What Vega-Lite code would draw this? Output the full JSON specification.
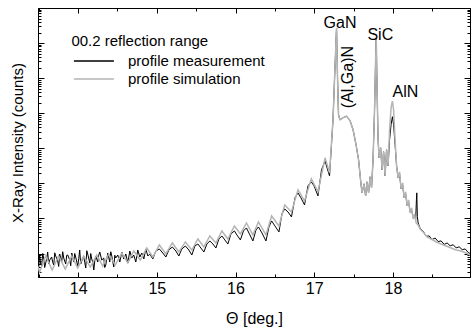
{
  "$schema": "https://vega.github.io/schema/vega-lite/v6.json",
  "width": 432,
  "height": 269,
  "autosize": "none",
  "padding": {"left": 38, "top": 8, "right": 1, "bottom": 51},
  "config": {
    "font": "Liberation Sans",
    "axis": {"grid": false, "domainColor": "black", "tickColor": "black", "labelColor": "black", "titleColor": "black", "labelFont": "Liberation Sans", "titleFont": "Liberation Sans", "titleFontWeight": "normal"},
    "view": {"stroke": "black", "strokeWidth": 1},
    "legend": {"labelFont": "Liberation Sans", "titleFont": "Liberation Sans"}
  },
  "datasets": {
    "meas": [
      {"theta": 13.486, "lg": 0.757}, {"theta": 13.499, "lg": 0.6}, {"theta": 13.511, "lg": 0.957}, {"theta": 13.524, "lg": 0.7}, {"theta": 13.537, "lg": 0.643}, {"theta": 13.55, "lg": 1.0}, {"theta": 13.562, "lg": 0.871},
      {"theta": 13.575, "lg": 0.6}, {"theta": 13.588, "lg": 0.729}, {"theta": 13.6, "lg": 0.85}, {"theta": 13.613, "lg": 1.043}, {"theta": 13.626, "lg": 0.7}, {"theta": 13.639, "lg": 0.814}, {"theta": 13.664, "lg": 0.9},
      {"theta": 13.677, "lg": 0.75}, {"theta": 13.69, "lg": 0.671}, {"theta": 13.703, "lg": 1.02}, {"theta": 13.715, "lg": 0.929}, {"theta": 13.74, "lg": 0.786}, {"theta": 13.753, "lg": 0.63}, {"theta": 13.766, "lg": 0.986},
      {"theta": 13.791, "lg": 0.757}, {"theta": 13.804, "lg": 1.05}, {"theta": 13.817, "lg": 0.871}, {"theta": 13.842, "lg": 0.7}, {"theta": 13.855, "lg": 0.95}, {"theta": 13.868, "lg": 0.957},
      {"theta": 13.893, "lg": 0.814}, {"theta": 13.906, "lg": 0.65}, {"theta": 13.919, "lg": 1.014}, {"theta": 13.944, "lg": 0.757}, {"theta": 13.957, "lg": 1.0}, {"theta": 13.969, "lg": 0.9},
      {"theta": 13.995, "lg": 0.643}, {"theta": 14.008, "lg": 0.85}, {"theta": 14.02, "lg": 1.1}, {"theta": 14.033, "lg": 0.7}, {"theta": 14.046, "lg": 0.786}, {"theta": 14.071, "lg": 0.929},
      {"theta": 14.084, "lg": 0.75}, {"theta": 14.097, "lg": 0.586}, {"theta": 14.11, "lg": 1.08}, {"theta": 14.122, "lg": 0.986}, {"theta": 14.148, "lg": 0.729}, {"theta": 14.16, "lg": 1.0}, {"theta": 14.173, "lg": 0.843},
      {"theta": 14.186, "lg": 0.75}, {"theta": 14.199, "lg": 0.529}, {"theta": 14.212, "lg": 0.8}, {"theta": 14.224, "lg": 0.929}, {"theta": 14.249, "lg": 0.757}, {"theta": 14.262, "lg": 0.95}, {"theta": 14.275, "lg": 1.043},
      {"theta": 14.3, "lg": 0.814}, {"theta": 14.326, "lg": 0.871}, {"theta": 14.338, "lg": 0.6}, {"theta": 14.351, "lg": 0.671}, {"theta": 14.377, "lg": 1.014},
      {"theta": 14.402, "lg": 0.757}, {"theta": 14.415, "lg": 1.05}, {"theta": 14.428, "lg": 0.929}, {"theta": 14.453, "lg": 0.614}, {"theta": 14.466, "lg": 0.95}, {"theta": 14.478, "lg": 0.871},
      {"theta": 14.504, "lg": 0.957}, {"theta": 14.53, "lg": 0.757}, {"theta": 14.555, "lg": 1.043}, {"theta": 14.58, "lg": 0.843},
      {"theta": 14.606, "lg": 0.986}, {"theta": 14.631, "lg": 0.729}, {"theta": 14.657, "lg": 1.071}, {"theta": 14.682, "lg": 0.871},
      {"theta": 14.707, "lg": 0.957}, {"theta": 14.733, "lg": 0.757}, {"theta": 14.758, "lg": 1.1}, {"theta": 14.784, "lg": 0.9},
      {"theta": 14.809, "lg": 1.014}, {"theta": 14.835, "lg": 0.843}, {"theta": 14.86, "lg": 1.129}, {"theta": 14.886, "lg": 0.929},
      {"theta": 14.911, "lg": 0.986}, {"theta": 14.949, "lg": 0.843}, {"theta": 14.987, "lg": 1.071}, {"theta": 15.032, "lg": 1.129},
      {"theta": 15.076, "lg": 1.014}, {"theta": 15.115, "lg": 0.9}, {"theta": 15.153, "lg": 1.1}, {"theta": 15.197, "lg": 1.186},
      {"theta": 15.242, "lg": 1.071}, {"theta": 15.28, "lg": 0.929}, {"theta": 15.318, "lg": 1.129}, {"theta": 15.363, "lg": 1.214},
      {"theta": 15.407, "lg": 1.1}, {"theta": 15.445, "lg": 0.957}, {"theta": 15.484, "lg": 1.214}, {"theta": 15.522, "lg": 1.271},
      {"theta": 15.56, "lg": 1.157}, {"theta": 15.598, "lg": 1.043}, {"theta": 15.636, "lg": 1.271}, {"theta": 15.674, "lg": 1.357},
      {"theta": 15.713, "lg": 1.271}, {"theta": 15.751, "lg": 1.157}, {"theta": 15.789, "lg": 1.414}, {"theta": 15.827, "lg": 1.5},
      {"theta": 15.865, "lg": 1.386}, {"theta": 15.903, "lg": 1.271}, {"theta": 15.942, "lg": 1.557}, {"theta": 15.986, "lg": 1.643},
      {"theta": 16.018, "lg": 1.529}, {"theta": 16.062, "lg": 1.386}, {"theta": 16.101, "lg": 1.643}, {"theta": 16.139, "lg": 1.729},
      {"theta": 16.177, "lg": 1.557}, {"theta": 16.221, "lg": 1.357}, {"theta": 16.26, "lg": 1.671}, {"theta": 16.291, "lg": 1.757},
      {"theta": 16.336, "lg": 1.586}, {"theta": 16.387, "lg": 1.357}, {"theta": 16.425, "lg": 1.757}, {"theta": 16.459, "lg": 1.929},
      {"theta": 16.501, "lg": 1.786}, {"theta": 16.552, "lg": 1.614}, {"theta": 16.59, "lg": 2.129}, {"theta": 16.625, "lg": 2.271},
      {"theta": 16.667, "lg": 2.186}, {"theta": 16.711, "lg": 2.043}, {"theta": 16.756, "lg": 2.586}, {"theta": 16.794, "lg": 2.729},
      {"theta": 16.832, "lg": 2.586}, {"theta": 16.877, "lg": 2.386}, {"theta": 16.921, "lg": 2.929}, {"theta": 16.963, "lg": 3.043},
      {"theta": 16.998, "lg": 2.929}, {"theta": 17.048, "lg": 2.643}, {"theta": 17.093, "lg": 3.386}, {"theta": 17.138, "lg": 3.643},
      {"theta": 17.163, "lg": 3.443}, {"theta": 17.195, "lg": 3.214}, {"theta": 17.239, "lg": 4.814}, {"theta": 17.265, "lg": 6.357},
      {"theta": 17.284, "lg": 7.429}, {"theta": 17.297, "lg": 5.957}, {"theta": 17.309, "lg": 4.957}, {"theta": 17.328, "lg": 4.814},
      {"theta": 17.367, "lg": 4.872}, {"theta": 17.411, "lg": 4.914}, {"theta": 17.456, "lg": 4.786}, {"theta": 17.494, "lg": 4.529},
      {"theta": 17.532, "lg": 4.1}, {"theta": 17.564, "lg": 3.672}, {"theta": 17.589, "lg": 3.1}, {"theta": 17.608, "lg": 2.729},
      {"theta": 17.634, "lg": 2.986}, {"theta": 17.653, "lg": 2.643}, {"theta": 17.672, "lg": 3.043}, {"theta": 17.691, "lg": 2.729},
      {"theta": 17.71, "lg": 3.186}, {"theta": 17.729, "lg": 2.872}, {"theta": 17.748, "lg": 3.672}, {"theta": 17.767, "lg": 5.1},
      {"theta": 17.78, "lg": 6.472}, {"theta": 17.789, "lg": 7.1}, {"theta": 17.799, "lg": 5.671}, {"theta": 17.812, "lg": 4.243},
      {"theta": 17.825, "lg": 3.729}, {"theta": 17.844, "lg": 4.014}, {"theta": 17.863, "lg": 3.386}, {"theta": 17.882, "lg": 3.9},
      {"theta": 17.901, "lg": 3.214}, {"theta": 17.92, "lg": 3.957}, {"theta": 17.939, "lg": 3.5}, {"theta": 17.958, "lg": 4.243},
      {"theta": 17.977, "lg": 4.671}, {"theta": 17.994, "lg": 4.9}, {"theta": 18.009, "lg": 4.671}, {"theta": 18.028, "lg": 4.1},
      {"theta": 18.047, "lg": 3.5}, {"theta": 18.066, "lg": 3.157}, {"theta": 18.085, "lg": 3.272}, {"theta": 18.104, "lg": 2.843},
      {"theta": 18.124, "lg": 2.957}, {"theta": 18.143, "lg": 2.586}, {"theta": 18.162, "lg": 2.7}, {"theta": 18.181, "lg": 2.357},
      {"theta": 18.2, "lg": 2.472}, {"theta": 18.219, "lg": 2.186}, {"theta": 18.238, "lg": 2.243}, {"theta": 18.257, "lg": 2.043},
      {"theta": 18.276, "lg": 2.1}, {"theta": 18.289, "lg": 1.957}, {"theta": 18.299, "lg": 2.529}, {"theta": 18.304, "lg": 2.729},
      {"theta": 18.311, "lg": 2.05}, {"theta": 18.321, "lg": 1.87}, {"theta": 18.346, "lg": 1.72}, {"theta": 18.384, "lg": 1.64},
      {"theta": 18.423, "lg": 1.49}, {"theta": 18.461, "lg": 1.5}, {"theta": 18.499, "lg": 1.4}, {"theta": 18.537, "lg": 1.44},
      {"theta": 18.575, "lg": 1.34}, {"theta": 18.613, "lg": 1.36}, {"theta": 18.652, "lg": 1.26}, {"theta": 18.69, "lg": 1.3},
      {"theta": 18.728, "lg": 1.22}, {"theta": 18.766, "lg": 1.25}, {"theta": 18.804, "lg": 1.16}, {"theta": 18.842, "lg": 1.19},
      {"theta": 18.881, "lg": 1.11}, {"theta": 18.919, "lg": 1.13}, {"theta": 18.957, "lg": 1.03}, {"theta": 18.982, "lg": 1.0}
    ],
    "sim": [
      {"theta": 13.486, "lg": 0.643}, {"theta": 13.511, "lg": 0.471}, {"theta": 13.588, "lg": 0.929}, {"theta": 13.67, "lg": 0.529},
      {"theta": 13.753, "lg": 0.929}, {"theta": 13.836, "lg": 0.557}, {"theta": 13.919, "lg": 0.929}, {"theta": 13.995, "lg": 0.586},
      {"theta": 14.071, "lg": 0.929}, {"theta": 14.154, "lg": 0.614}, {"theta": 14.237, "lg": 0.957}, {"theta": 14.313, "lg": 0.643},
      {"theta": 14.389, "lg": 0.986}, {"theta": 14.472, "lg": 0.671}, {"theta": 14.555, "lg": 1.014}, {"theta": 14.631, "lg": 0.729},
      {"theta": 14.707, "lg": 1.071}, {"theta": 14.79, "lg": 0.814}, {"theta": 14.873, "lg": 1.157}, {"theta": 14.949, "lg": 0.9},
      {"theta": 15.032, "lg": 1.243}, {"theta": 15.115, "lg": 0.986}, {"theta": 15.197, "lg": 1.3}, {"theta": 15.28, "lg": 1.043},
      {"theta": 15.363, "lg": 1.329}, {"theta": 15.445, "lg": 1.1}, {"theta": 15.522, "lg": 1.414}, {"theta": 15.598, "lg": 1.186},
      {"theta": 15.674, "lg": 1.5}, {"theta": 15.751, "lg": 1.3}, {"theta": 15.827, "lg": 1.643}, {"theta": 15.903, "lg": 1.414},
      {"theta": 15.986, "lg": 1.786}, {"theta": 16.062, "lg": 1.557}, {"theta": 16.139, "lg": 1.871}, {"theta": 16.221, "lg": 1.529},
      {"theta": 16.291, "lg": 1.9}, {"theta": 16.387, "lg": 1.529}, {"theta": 16.459, "lg": 2.071}, {"theta": 16.552, "lg": 1.786},
      {"theta": 16.625, "lg": 2.386}, {"theta": 16.711, "lg": 2.186}, {"theta": 16.794, "lg": 2.814}, {"theta": 16.877, "lg": 2.5},
      {"theta": 16.963, "lg": 3.129}, {"theta": 17.048, "lg": 2.757}, {"theta": 17.138, "lg": 3.729}, {"theta": 17.195, "lg": 3.3},
      {"theta": 17.239, "lg": 4.814}, {"theta": 17.265, "lg": 6.357}, {"theta": 17.284, "lg": 7.429}, {"theta": 17.297, "lg": 5.957},
      {"theta": 17.309, "lg": 4.957}, {"theta": 17.328, "lg": 4.814}, {"theta": 17.367, "lg": 4.872}, {"theta": 17.411, "lg": 4.914},
      {"theta": 17.456, "lg": 4.786}, {"theta": 17.494, "lg": 4.529}, {"theta": 17.532, "lg": 4.1}, {"theta": 17.564, "lg": 3.672},
      {"theta": 17.589, "lg": 3.1}, {"theta": 17.608, "lg": 2.729}, {"theta": 17.634, "lg": 2.986}, {"theta": 17.653, "lg": 2.643},
      {"theta": 17.672, "lg": 3.043}, {"theta": 17.691, "lg": 2.729}, {"theta": 17.71, "lg": 3.186}, {"theta": 17.729, "lg": 2.872},
      {"theta": 17.748, "lg": 3.672}, {"theta": 17.767, "lg": 5.1}, {"theta": 17.78, "lg": 6.472}, {"theta": 17.789, "lg": 7.1},
      {"theta": 17.799, "lg": 5.671}, {"theta": 17.812, "lg": 4.243}, {"theta": 17.825, "lg": 3.729}, {"theta": 17.844, "lg": 4.014},
      {"theta": 17.863, "lg": 3.386}, {"theta": 17.882, "lg": 3.9}, {"theta": 17.901, "lg": 3.214}, {"theta": 17.92, "lg": 3.957},
      {"theta": 17.939, "lg": 3.5}, {"theta": 17.958, "lg": 4.529}, {"theta": 17.977, "lg": 5.157}, {"theta": 17.994, "lg": 5.343},
      {"theta": 18.009, "lg": 5.1}, {"theta": 18.028, "lg": 4.243}, {"theta": 18.047, "lg": 3.5}, {"theta": 18.066, "lg": 3.157},
      {"theta": 18.085, "lg": 3.329}, {"theta": 18.104, "lg": 2.843}, {"theta": 18.124, "lg": 3.014}, {"theta": 18.143, "lg": 2.586},
      {"theta": 18.162, "lg": 2.757}, {"theta": 18.181, "lg": 2.357}, {"theta": 18.2, "lg": 2.529}, {"theta": 18.219, "lg": 2.157},
      {"theta": 18.238, "lg": 2.3}, {"theta": 18.257, "lg": 1.986}, {"theta": 18.276, "lg": 2.129}, {"theta": 18.295, "lg": 1.871},
      {"theta": 18.321, "lg": 1.814}, {"theta": 18.346, "lg": 1.7}, {"theta": 18.384, "lg": 1.614}, {"theta": 18.435, "lg": 1.471},
      {"theta": 18.486, "lg": 1.414}, {"theta": 18.55, "lg": 1.329}, {"theta": 18.613, "lg": 1.271}, {"theta": 18.677, "lg": 1.214},
      {"theta": 18.741, "lg": 1.157}, {"theta": 18.804, "lg": 1.1}, {"theta": 18.868, "lg": 1.071}, {"theta": 18.931, "lg": 1.014},
      {"theta": 18.982, "lg": 0.957}
    ],
    "peaks": [
      {"theta": 17.328, "lg": 7.57, "label": "GaN"},
      {"theta": 17.84, "lg": 7.22, "label": "SiC"},
      {"theta": 18.16, "lg": 5.6, "label": "AlN"}
    ],
    "layer_label": [
      {"theta": 17.43, "lg": 6.03, "label": "(Al,Ga)N"}
    ]
  },
  "layer": [
    {
      "data": {"name": "meas"},
      "mark": {"type": "line", "strokeWidth": 1, "clip": true},
      "encoding": {
        "x": {"field": "theta", "type": "quantitative", "scale": {"domain": [13.49, 18.98], "nice": false, "zero": false},
          "axis": {"orient": "bottom", "values": [14, 15, 16, 17, 18], "format": "d", "tickSize": -5, "labelPadding": 8, "labelFontSize": 16, "title": "Θ [deg.]", "titleFontSize": 16, "titlePadding": 14}},
        "y": {"field": "lg", "type": "quantitative", "scale": {"domain": [0.33, 8.0], "nice": false, "zero": false},
          "axis": {"orient": "left", "values": [1, 2, 3, 4, 5, 6, 7], "tickSize": -6, "labels": false, "title": "X-Ray Intensity (counts)", "titleFontSize": 15, "titlePadding": 12}},
        "color": {"datum": "profile measurement", "type": "nominal",
          "scale": {"domain": ["profile measurement", "profile simulation"], "range": ["#000000", "#b4b4b4"]},
          "legend": {"orient": "none", "legendX": 33.4, "legendY": 26, "title": "00.2 reflection range", "titleFontSize": 15, "titleFontWeight": "normal", "titlePadding": 4.5, "labelFontSize": 15, "symbolOffset": 15, "labelOffset": 26.6, "symbolType": "M-4,0H4", "symbolSize": 100, "symbolStrokeWidth": 1.5, "rowPadding": 2, "padding": 0}}
      }
    },
    {
      "data": {"name": "sim"},
      "mark": {"type": "line", "strokeWidth": 1.5, "clip": true},
      "encoding": {
        "x": {"field": "theta", "type": "quantitative", "axis": {"orient": "top", "values": [14, 15, 16, 17, 18], "tickSize": -5, "labels": false, "title": null}},
        "y": {"field": "lg", "type": "quantitative", "axis": {"orient": "right", "values": [1, 2, 3, 4, 5, 6, 7], "tickSize": -6, "labels": false, "title": null}},
        "color": {"datum": "profile simulation", "type": "nominal"}
      }
    },
    {
      "data": {"name": "sim"},
      "mark": {"type": "line", "opacity": 0},
      "encoding": {
        "x": {"field": "theta", "type": "quantitative", "axis": {"orient": "bottom", "values": [13.5, 14.5, 15.5, 16.5, 17.5, 18.5], "tickSize": -3, "labels": false, "domain": false, "title": null}},
        "y": {"field": "lg", "type": "quantitative", "axis": {"orient": "left", "values": [0.477,0.602,0.699,0.778,0.845,0.903,0.954,1.301,1.477,1.602,1.699,1.778,1.845,1.903,1.954,2.301,2.477,2.602,2.699,2.778,2.845,2.903,2.954,3.301,3.477,3.602,3.699,3.778,3.845,3.903,3.954,4.301,4.477,4.602,4.699,4.778,4.845,4.903,4.954,5.301,5.477,5.602,5.699,5.778,5.845,5.903,5.954,6.301,6.477,6.602,6.699,6.778,6.845,6.903,6.954,7.301,7.477,7.602,7.699,7.778,7.845,7.903,7.954], "tickSize": -3, "labels": false, "domain": false, "title": null}}
      }
    },
    {
      "data": {"name": "sim"},
      "mark": {"type": "line", "opacity": 0},
      "encoding": {
        "x": {"field": "theta", "type": "quantitative", "axis": {"orient": "top", "values": [13.5, 14.5, 15.5, 16.5, 17.5, 18.5], "tickSize": -3, "labels": false, "domain": false, "title": null}},
        "y": {"field": "lg", "type": "quantitative", "axis": {"orient": "right", "values": [0.477,0.602,0.699,0.778,0.845,0.903,0.954,1.301,1.477,1.602,1.699,1.778,1.845,1.903,1.954,2.301,2.477,2.602,2.699,2.778,2.845,2.903,2.954,3.301,3.477,3.602,3.699,3.778,3.845,3.903,3.954,4.301,4.477,4.602,4.699,4.778,4.845,4.903,4.954,5.301,5.477,5.602,5.699,5.778,5.845,5.903,5.954,6.301,6.477,6.602,6.699,6.778,6.845,6.903,6.954,7.301,7.477,7.602,7.699,7.778,7.845,7.903,7.954], "tickSize": -3, "labels": false, "domain": false, "title": null}}
      }
    },
    {
      "data": {"name": "peaks"},
      "mark": {"type": "text", "fontSize": 16, "font": "Liberation Sans", "color": "black", "align": "center", "baseline": "middle"},
      "encoding": {
        "x": {"field": "theta", "type": "quantitative", "axis": null},
        "y": {"field": "lg", "type": "quantitative", "axis": null},
        "text": {"field": "label"}
      }
    },
    {
      "data": {"name": "layer_label"},
      "mark": {"type": "text", "fontSize": 16, "font": "Liberation Sans", "color": "black", "align": "center", "baseline": "middle", "angle": 270},
      "encoding": {
        "x": {"field": "theta", "type": "quantitative", "axis": null},
        "y": {"field": "lg", "type": "quantitative", "axis": null},
        "text": {"field": "label"}
      }
    }
  ],
  "resolve": {"axis": {"x": "independent", "y": "independent"}}
}
